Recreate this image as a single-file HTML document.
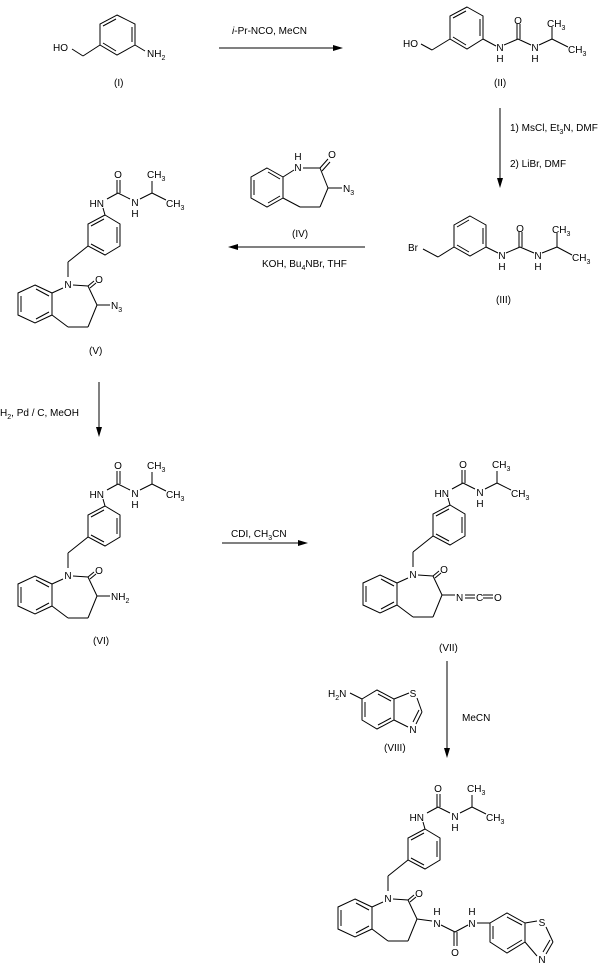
<!DOCTYPE html>
<html><head><meta charset="utf-8"><style>
html,body{margin:0;padding:0;background:#fff}
svg{display:block}
text{font-family:"Liberation Sans",sans-serif;font-size:10px;fill:#000}
.s{font-size:7px}
</style></head><body>
<svg width="600" height="972" viewBox="0 0 600 972" xmlns="http://www.w3.org/2000/svg">
<g stroke="#000" stroke-width="1" fill="none">
<!-- (I) -->
<polygon points="117,15 135,24 135,45 117,55 100,45 100,24"/>
<line x1="132" y1="27" x2="132" y2="42"/><line x1="116" y1="51" x2="103" y2="43"/><line x1="103" y1="26" x2="116" y2="19"/>
<line x1="100" y1="45" x2="83" y2="56"/><line x1="83" y1="56" x2="72" y2="49"/>
<line x1="135" y1="45" x2="145" y2="51"/>
<!-- arrow 1 -->
<line x1="219" y1="48" x2="338" y2="48"/>
<!-- (II) -->
<polygon points="467,7 483,16 483,39 467,49 450,39 450,16"/>
<line x1="480" y1="19" x2="480" y2="36"/><line x1="466" y1="45" x2="453" y2="37"/><line x1="453" y1="18" x2="466" y2="11"/>
<line x1="450" y1="39" x2="432" y2="50"/><line x1="432" y1="50" x2="421" y2="44"/>
<line x1="483" y1="39" x2="496" y2="46"/><line x1="504" y1="45" x2="518" y2="39"/>
<line x1="517" y1="24" x2="517" y2="39"/><line x1="520" y1="24" x2="520" y2="39"/>
<line x1="518" y1="39" x2="531" y2="45"/><line x1="539" y1="45" x2="552" y2="39"/>
<line x1="552" y1="39" x2="552" y2="27"/><line x1="552" y1="39" x2="568" y2="47"/>
<!-- arrow 2 -->
<line x1="500" y1="108" x2="500" y2="183"/>
<!-- (III) -->
<polygon points="470,216 486,225 486,247 470,256 454,247 454,225"/>
<line x1="483" y1="228" x2="483" y2="244"/><line x1="469" y1="252" x2="457" y2="245"/><line x1="457" y1="227" x2="469" y2="220"/>
<line x1="454" y1="247" x2="438" y2="257"/><line x1="438" y1="257" x2="423" y2="249"/>
<line x1="486" y1="247" x2="498" y2="253"/><line x1="506" y1="253" x2="520" y2="247"/>
<line x1="519" y1="232" x2="519" y2="247"/><line x1="522" y1="232" x2="522" y2="247"/>
<line x1="520" y1="247" x2="534" y2="253"/><line x1="542" y1="253" x2="557" y2="247"/>
<line x1="557" y1="247" x2="557" y2="233"/><line x1="557" y1="247" x2="572" y2="255"/>
<!-- arrow 3 -->
<line x1="232" y1="247" x2="365" y2="247"/>
<!-- (IV) -->
<polygon points="267,168 283,177 283,198 267,207 251,198 251,177"/>
<line x1="268" y1="172" x2="280" y2="179"/><line x1="254" y1="180" x2="254" y2="195"/><line x1="268" y1="203" x2="280" y2="196"/>
<line x1="283" y1="177" x2="294" y2="170"/><line x1="303" y1="168" x2="320" y2="168"/>
<line x1="320" y1="168" x2="328" y2="159"/><line x1="322" y1="171" x2="330" y2="162"/>
<line x1="320" y1="168" x2="328" y2="188"/><line x1="328" y1="188" x2="342" y2="188"/>
<line x1="328" y1="188" x2="320" y2="207"/><line x1="320" y1="207" x2="300" y2="207"/><line x1="300" y1="207" x2="283" y2="198"/>
<!-- arrow 4 -->
<line x1="99" y1="382" x2="99" y2="432"/>
<!-- arrow 5 -->
<line x1="222" y1="543" x2="303" y2="543"/>
<!-- arrow 6 -->
<line x1="447" y1="661" x2="447" y2="753"/>
<!-- (VIII) -->
<polygon points="377,690 394,699 394,720 377,729 362,720 362,699"/>
<line x1="378" y1="694" x2="391" y2="701"/><line x1="365" y1="702" x2="365" y2="717"/><line x1="378" y1="725" x2="391" y2="718"/>
<line x1="350" y1="693" x2="362" y2="699"/>
<line x1="394" y1="699" x2="409" y2="693"/><line x1="417" y1="698" x2="422" y2="712"/>
<line x1="422" y1="712" x2="416" y2="724"/><line x1="419" y1="710" x2="413" y2="722"/>
<line x1="394" y1="720" x2="408" y2="727"/>
<!-- final urea -->
<line x1="417" y1="919" x2="432" y2="921"/>
<line x1="441" y1="925" x2="455" y2="932"/><line x1="455" y1="932" x2="468" y2="925"/>
<line x1="454" y1="932" x2="454" y2="946"/><line x1="457" y1="932" x2="457" y2="946"/>
<line x1="477" y1="923" x2="490" y2="923"/>
<polygon points="490,923 507,913 525,923 525,942 507,953 490,942"/>
<line x1="507" y1="917" x2="522" y2="925"/><line x1="493" y1="926" x2="493" y2="939"/><line x1="507" y1="949" x2="522" y2="940"/>
<line x1="525" y1="923" x2="537" y2="921"/><line x1="546" y1="927" x2="553" y2="942"/>
<line x1="553" y1="942" x2="546" y2="954"/><line x1="550" y1="940" x2="543" y2="952"/>
<line x1="525" y1="942" x2="537" y2="956"/>
</g>
<g fill="#000">
<polygon points="343,48 333,45 333,51"/>
<polygon points="500,188 497,178 503,178"/>
<polygon points="228,247 238,244 238,250"/>
<polygon points="99,437 96,427 102,427"/>
<polygon points="308,543 298,540 298,546"/>
<polygon points="447,758 444,748 450,748"/>
</g>
<!-- texts -->
<text x="53" y="51">HO</text><text x="147" y="57">NH<tspan class="s" dy="3">2</tspan></text>
<text x="114" y="86">(I)</text>
<text x="232" y="34"><tspan font-style="italic">i</tspan>-Pr-NCO, MeCN</text>
<text x="403" y="47">HO</text>
<text x="500" y="51" text-anchor="middle">N</text><text x="500" y="62" text-anchor="middle">H</text>
<text x="518" y="24" text-anchor="middle">O</text>
<text x="535" y="51" text-anchor="middle">N</text><text x="535" y="62" text-anchor="middle">H</text>
<text x="547" y="27">CH<tspan class="s" dy="3">3</tspan></text>
<text x="568" y="53">CH<tspan class="s" dy="3">3</tspan></text>
<text x="494" y="86">(II)</text>
<text x="510" y="131">1) MsCl, Et<tspan class="s" dy="3">3</tspan><tspan dy="-3">N, DMF</tspan></text>
<text x="510" y="167">2) LiBr, DMF</text>
<text x="408" y="251">Br</text>
<text x="502" y="259" text-anchor="middle">N</text><text x="502" y="270" text-anchor="middle">H</text>
<text x="520" y="232" text-anchor="middle">O</text>
<text x="538" y="259" text-anchor="middle">N</text><text x="538" y="270" text-anchor="middle">H</text>
<text x="552" y="233">CH<tspan class="s" dy="3">3</tspan></text>
<text x="572" y="261">CH<tspan class="s" dy="3">3</tspan></text>
<text x="496" y="303">(III)</text>
<text x="298" y="171" text-anchor="middle">N</text><text x="298" y="160" text-anchor="middle">H</text>
<text x="332" y="158" text-anchor="middle">O</text>
<text x="343" y="192">N<tspan class="s" dy="3">3</tspan></text>
<text x="292" y="237">(IV)</text>
<text x="262" y="267">KOH, Bu<tspan class="s" dy="3">4</tspan><tspan dy="-3">NBr, THF</tspan></text>
<text x="0" y="416">H<tspan class="s" dy="3">2</tspan><tspan dy="-3">, Pd / C, MeOH</tspan></text>
<text x="231" y="537">CDI, CH<tspan class="s" dy="3">3</tspan><tspan dy="-3">CN</tspan></text>
<text x="462" y="721">MeCN</text>
<text x="328" y="697">H<tspan class="s" dy="3">2</tspan><tspan dy="-3">N</tspan></text>
<text x="413" y="697" text-anchor="middle">S</text><text x="413" y="733" text-anchor="middle">N</text>
<text x="384" y="751">(VIII)</text>
<text x="437" y="927" text-anchor="middle">N</text><text x="437" y="915" text-anchor="middle">H</text>
<text x="455" y="956" text-anchor="middle">O</text>
<text x="472" y="927" text-anchor="middle">N</text><text x="472" y="915" text-anchor="middle">H</text>
<text x="542" y="926" text-anchor="middle">S</text><text x="542" y="963" text-anchor="middle">N</text>

<g transform="translate(0,0)">
<g stroke="#000" fill="none">
<line x1="117" y1="180" x2="117" y2="193"/><line x1="120" y1="180" x2="120" y2="193"/>
<line x1="118" y1="193" x2="107" y2="199"/><line x1="118" y1="193" x2="130" y2="199"/>
<line x1="140" y1="199" x2="152" y2="193"/><line x1="152" y1="193" x2="152" y2="181"/><line x1="152" y1="193" x2="166" y2="200"/>
<line x1="103" y1="208" x2="105" y2="215"/>
<polygon points="105,215 120,224 120,246 105,255 88,246 88,224"/>
<line x1="117" y1="227" x2="117" y2="243"/><line x1="104" y1="251" x2="91" y2="244"/><line x1="91" y1="226" x2="104" y2="219"/>
<line x1="88" y1="246" x2="68" y2="262"/><line x1="68" y1="262" x2="68" y2="277"/>
<line x1="73" y1="285" x2="88" y2="286"/>
<line x1="88" y1="286" x2="94" y2="281"/><line x1="90" y1="288" x2="96" y2="283"/>
<line x1="88" y1="286" x2="97" y2="305"/><line x1="97" y1="305" x2="88" y2="327"/>
<line x1="88" y1="327" x2="68" y2="327"/><line x1="68" y1="327" x2="52" y2="315"/><line x1="63" y1="288" x2="52" y2="293"/>
<polygon points="35,285 52,293 52,315 35,323 18,315 18,293"/>
<line x1="36" y1="289" x2="49" y2="296"/><line x1="21" y1="296" x2="21" y2="312"/><line x1="36" y1="319" x2="49" y2="312"/>
<line x1="97" y1="305" x2="110" y2="305"/>
</g>
<text x="118" y="178" text-anchor="middle">O</text>
<text x="104" y="207" text-anchor="end">HN</text>
<text x="135" y="206" text-anchor="middle">N</text><text x="135" y="217" text-anchor="middle">H</text>
<text x="147" y="178">CH<tspan class="s" dy="3">3</tspan></text>
<text x="166" y="207">CH<tspan class="s" dy="3">3</tspan></text>
<text x="68" y="288" text-anchor="middle">N</text>
<text x="99" y="283" text-anchor="middle">O</text>
<text x="111" y="309">N<tspan class="s" dy="3">3</tspan></text>
<text x="89" y="354">(V)</text>
</g>

<g transform="translate(0,291)">
<g stroke="#000" fill="none">
<line x1="117" y1="180" x2="117" y2="193"/><line x1="120" y1="180" x2="120" y2="193"/>
<line x1="118" y1="193" x2="107" y2="199"/><line x1="118" y1="193" x2="130" y2="199"/>
<line x1="140" y1="199" x2="152" y2="193"/><line x1="152" y1="193" x2="152" y2="181"/><line x1="152" y1="193" x2="166" y2="200"/>
<line x1="103" y1="208" x2="105" y2="215"/>
<polygon points="105,215 120,224 120,246 105,255 88,246 88,224"/>
<line x1="117" y1="227" x2="117" y2="243"/><line x1="104" y1="251" x2="91" y2="244"/><line x1="91" y1="226" x2="104" y2="219"/>
<line x1="88" y1="246" x2="68" y2="262"/><line x1="68" y1="262" x2="68" y2="277"/>
<line x1="73" y1="285" x2="88" y2="286"/>
<line x1="88" y1="286" x2="94" y2="281"/><line x1="90" y1="288" x2="96" y2="283"/>
<line x1="88" y1="286" x2="97" y2="305"/><line x1="97" y1="305" x2="88" y2="327"/>
<line x1="88" y1="327" x2="68" y2="327"/><line x1="68" y1="327" x2="52" y2="315"/><line x1="63" y1="288" x2="52" y2="293"/>
<polygon points="35,285 52,293 52,315 35,323 18,315 18,293"/>
<line x1="36" y1="289" x2="49" y2="296"/><line x1="21" y1="296" x2="21" y2="312"/><line x1="36" y1="319" x2="49" y2="312"/>
<line x1="97" y1="305" x2="110" y2="305"/>
</g>
<text x="118" y="178" text-anchor="middle">O</text>
<text x="104" y="207" text-anchor="end">HN</text>
<text x="135" y="206" text-anchor="middle">N</text><text x="135" y="217" text-anchor="middle">H</text>
<text x="147" y="178">CH<tspan class="s" dy="3">3</tspan></text>
<text x="166" y="207">CH<tspan class="s" dy="3">3</tspan></text>
<text x="68" y="288" text-anchor="middle">N</text>
<text x="99" y="283" text-anchor="middle">O</text>
<text x="111" y="309">NH<tspan class="s" dy="3">2</tspan></text>
<text x="93" y="353">(VI)</text>
</g>

<g transform="translate(345,290)">
<g stroke="#000" fill="none">
<line x1="117" y1="180" x2="117" y2="193"/><line x1="120" y1="180" x2="120" y2="193"/>
<line x1="118" y1="193" x2="107" y2="199"/><line x1="118" y1="193" x2="130" y2="199"/>
<line x1="140" y1="199" x2="152" y2="193"/><line x1="152" y1="193" x2="152" y2="181"/><line x1="152" y1="193" x2="166" y2="200"/>
<line x1="103" y1="208" x2="105" y2="215"/>
<polygon points="105,215 120,224 120,246 105,255 88,246 88,224"/>
<line x1="117" y1="227" x2="117" y2="243"/><line x1="104" y1="251" x2="91" y2="244"/><line x1="91" y1="226" x2="104" y2="219"/>
<line x1="88" y1="246" x2="68" y2="262"/><line x1="68" y1="262" x2="68" y2="277"/>
<line x1="73" y1="285" x2="88" y2="286"/>
<line x1="88" y1="286" x2="94" y2="281"/><line x1="90" y1="288" x2="96" y2="283"/>
<line x1="88" y1="286" x2="97" y2="305"/><line x1="97" y1="305" x2="88" y2="327"/>
<line x1="88" y1="327" x2="68" y2="327"/><line x1="68" y1="327" x2="52" y2="315"/><line x1="63" y1="288" x2="52" y2="293"/>
<polygon points="35,285 52,293 52,315 35,323 18,315 18,293"/>
<line x1="36" y1="289" x2="49" y2="296"/><line x1="21" y1="296" x2="21" y2="312"/><line x1="36" y1="319" x2="49" y2="312"/>
<line x1="97" y1="305" x2="110" y2="305"/>
<line x1="120" y1="305" x2="130" y2="305"/><line x1="120" y1="308" x2="130" y2="308"/>
<line x1="138" y1="305" x2="148" y2="305"/><line x1="138" y1="308" x2="148" y2="308"/>
</g>
<text x="111" y="311">N</text><text x="131" y="311">C</text><text x="149" y="311">O</text>
<text x="118" y="178" text-anchor="middle">O</text>
<text x="104" y="207" text-anchor="end">HN</text>
<text x="135" y="206" text-anchor="middle">N</text><text x="135" y="217" text-anchor="middle">H</text>
<text x="147" y="178">CH<tspan class="s" dy="3">3</tspan></text>
<text x="166" y="207">CH<tspan class="s" dy="3">3</tspan></text>
<text x="68" y="288" text-anchor="middle">N</text>
<text x="99" y="283" text-anchor="middle">O</text>
<text x="94" y="361">(VII)</text>
</g>

<g transform="translate(320,614)">
<g stroke="#000" fill="none">
<line x1="117" y1="180" x2="117" y2="193"/><line x1="120" y1="180" x2="120" y2="193"/>
<line x1="118" y1="193" x2="107" y2="199"/><line x1="118" y1="193" x2="130" y2="199"/>
<line x1="140" y1="199" x2="152" y2="193"/><line x1="152" y1="193" x2="152" y2="181"/><line x1="152" y1="193" x2="166" y2="200"/>
<line x1="103" y1="208" x2="105" y2="215"/>
<polygon points="105,215 120,224 120,246 105,255 88,246 88,224"/>
<line x1="117" y1="227" x2="117" y2="243"/><line x1="104" y1="251" x2="91" y2="244"/><line x1="91" y1="226" x2="104" y2="219"/>
<line x1="88" y1="246" x2="68" y2="262"/><line x1="68" y1="262" x2="68" y2="277"/>
<line x1="73" y1="285" x2="88" y2="286"/>
<line x1="88" y1="286" x2="94" y2="281"/><line x1="90" y1="288" x2="96" y2="283"/>
<line x1="88" y1="286" x2="97" y2="305"/><line x1="97" y1="305" x2="88" y2="327"/>
<line x1="88" y1="327" x2="68" y2="327"/><line x1="68" y1="327" x2="52" y2="315"/><line x1="63" y1="288" x2="52" y2="293"/>
<polygon points="35,285 52,293 52,315 35,323 18,315 18,293"/>
<line x1="36" y1="289" x2="49" y2="296"/><line x1="21" y1="296" x2="21" y2="312"/><line x1="36" y1="319" x2="49" y2="312"/>
</g>
<text x="118" y="178" text-anchor="middle">O</text>
<text x="104" y="207" text-anchor="end">HN</text>
<text x="135" y="206" text-anchor="middle">N</text><text x="135" y="217" text-anchor="middle">H</text>
<text x="147" y="178">CH<tspan class="s" dy="3">3</tspan></text>
<text x="166" y="207">CH<tspan class="s" dy="3">3</tspan></text>
<text x="68" y="288" text-anchor="middle">N</text>
<text x="99" y="283" text-anchor="middle">O</text>
</g>
</svg>
</body></html>
